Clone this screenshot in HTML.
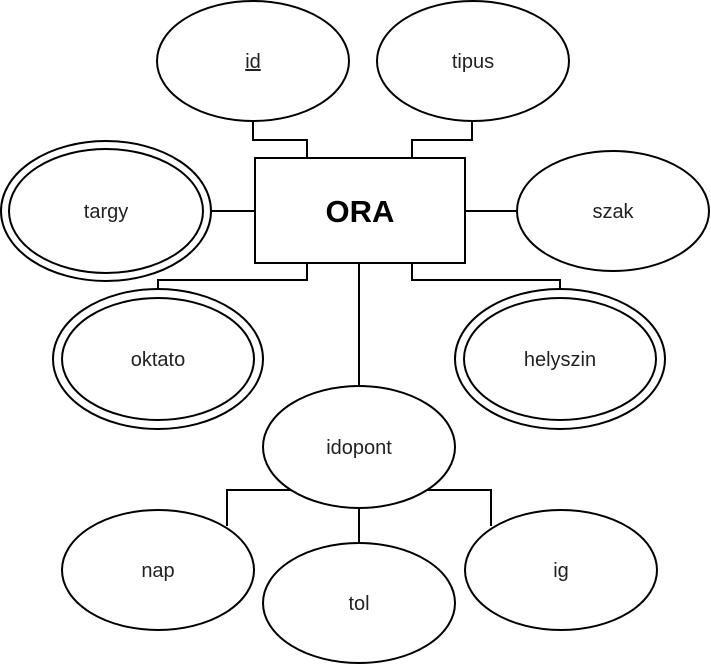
<!DOCTYPE html>
<html><head><style>body{margin:0;background:#fff}svg{display:block}</style></head><body>
<svg width="711" height="667" viewBox="0 0 711 667" xmlns="http://www.w3.org/2000/svg">
<g fill="none" stroke="#000" stroke-width="2">
<polyline points="253,121 253,140 307,140 307,158"/>
<polyline points="472,121 472,140 412,140 412,158"/>
<line x1="211" y1="211" x2="255" y2="211"/>
<line x1="465" y1="211" x2="516" y2="211"/>
<polyline points="307,263 307,280 158,280 158,289"/>
<polyline points="412,263 412,280 560,280 560,289"/>
<line x1="359" y1="263" x2="359" y2="386"/>
<polyline points="291,490 227,490 227,526"/>
<line x1="359" y1="508" x2="359" y2="543"/>
<polyline points="427,490 491,490 491,526"/>
</g>
<g fill="#fff" stroke="#000" stroke-width="2">
<rect x="255" y="158" width="210" height="105"/>
<ellipse cx="253" cy="61" rx="96" ry="60"/>
<ellipse cx="473" cy="61" rx="96" ry="60"/>
<ellipse cx="106" cy="211" rx="105" ry="70"/>
<ellipse cx="106" cy="211" rx="97" ry="62"/>
<ellipse cx="613" cy="211" rx="96" ry="60"/>
<ellipse cx="158" cy="359" rx="105" ry="70"/>
<ellipse cx="158" cy="359" rx="96" ry="61"/>
<ellipse cx="560" cy="359" rx="105" ry="70"/>
<ellipse cx="560" cy="359" rx="96" ry="61"/>
<ellipse cx="359" cy="447" rx="96" ry="61"/>
<ellipse cx="158" cy="570" rx="96" ry="60"/>
<ellipse cx="359" cy="603" rx="96" ry="60"/>
<ellipse cx="561" cy="570" rx="96" ry="60"/>
</g>
<g font-family="Liberation Sans, sans-serif" font-size="20" text-anchor="middle" fill="#222">
<text x="360" y="222" font-size="31" font-weight="bold" fill="#000">ORA</text>
<text x="253" y="68" text-decoration="underline">id</text>
<text x="473" y="68">tipus</text>
<text x="106" y="218">targy</text>
<text x="613" y="218">szak</text>
<text x="158" y="366">oktato</text>
<text x="560" y="366">helyszin</text>
<text x="359" y="454">idopont</text>
<text x="158" y="577">nap</text>
<text x="359" y="610">tol</text>
<text x="561" y="577">ig</text>
</g>
</svg>
</body></html>
